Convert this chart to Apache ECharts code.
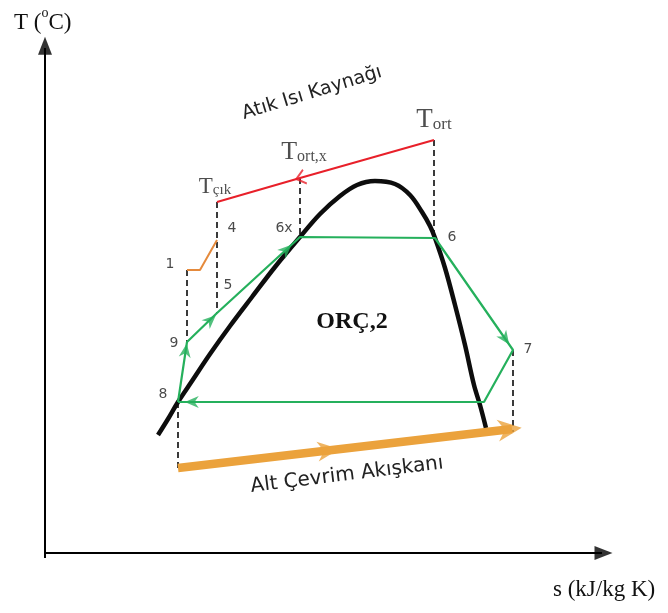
<!DOCTYPE html>
<html>
<head>
<meta charset="utf-8">
<script src="https://cdn.jsdelivr.net/npm/echarts@6/dist/echarts.min.js"></script>
<style>
  html, body { margin: 0; padding: 0; background: #fff; }
  #chart { width: 668px; height: 613px; }
</style>
</head>
<body>
<div id="chart"></div>
<script>
// Schematic T-s diagram of the bottoming ORC (ORÇ,2).
// Coordinates are in drawing units: s grows to the right, T grows upward
// (the T axis is inverted so that larger values sit lower on the page).

// Saturation dome of the working fluid
const domeS = [158, 168, 178, 192, 210, 230, 252, 275, 300, 320, 340, 357, 375, 395, 410, 422, 430, 435, 445, 455, 465, 474, 480, 486];
const domeT = [435, 419, 402, 381, 354, 326, 297, 267, 237, 214, 196, 185, 181, 184, 195, 212, 226, 238, 268, 305, 345, 385, 405, 428];

// Cycle state points: 8 -> 9 -> 5 -> 6x -> 6 -> 7 -> condenser -> 8
const cycleNames = ['8', '9', '5', '6x', '6', '7', ''];
const cycleS = [178, 187, 217, 300, 435, 513, 484];
const cycleT = [402, 342, 313, 237, 238, 350, 402];

// Waste heat source stream: T_ort -> T_ort,x -> T_çık
const heatS = [434, 300, 217];
const heatT = [140, 178, 202];

// Heat source inlet stub (point 1 -> 4)
const stubS = [187, 200, 217];
const stubT = [270, 270, 240];

// Bottoming-cycle fluid stream
const fluidS = [178, 520];
const fluidT = [468, 428];

// Vertical guide lines: [s, T from, T to]
const guideS = [434, 300, 217, 187, 178, 513];
const guideTop = [140, 178, 202, 270, 402, 350];
const guideBottom = [238, 237, 313, 342, 470, 432];

// Axes
const axisOrigin = [45, 553];
const axisTopT = 38;
const axisEndS = 612;

const GREEN = '#25b05c';
const RED = '#e8202a';
const ORANGE = '#eba23c';
const ORANGE_THIN = '#e58a3c';
const DASH = '#3a3a3a';

const pts = (xs, ys) => xs.map((x, i) => [x, ys[i]]);

// Arrowhead placed at fraction t along segment p -> q, rotated along it
function arrowAt(p, q, t, symbol, size, color) {
  const dx = q[0] - p[0], dy = q[1] - p[1];
  const phi = Math.atan2(-dy, dx) * 180 / Math.PI;
  return {
    value: [p[0] + dx * t, p[1] + dy * t],
    symbol: symbol,
    symbolSize: size,
    symbolRotate: phi - 90,
    itemStyle: { color: color }
  };
}

const cycle = pts(cycleS, cycleT);
const heat = pts(heatS, heatT);
const fluid = pts(fluidS, fluidT);

const arrowPath = 'path://M0,20 L10,0 L20,20 L10,14 Z';
const chevron = 'path://M0,12 L7,0 L14,12 L12.5,13 L7,4 L1.5,13 Z';

const arrows = [
  arrowAt(cycle[0], cycle[1], 0.86, arrowPath, [12, 14], GREEN),
  arrowAt(cycle[1], cycle[3], 0.21, arrowPath, [12, 14], GREEN),
  arrowAt(cycle[1], cycle[3], 0.88, arrowPath, [12, 14], GREEN),
  arrowAt(cycle[4], cycle[5], 0.9, arrowPath, [12, 14], GREEN),
  arrowAt(cycle[6], cycle[0], 0.955, arrowPath, [12, 14], GREEN),
  arrowAt(heat[0], heat[1], 1.0, chevron, [16, 11], RED),
  arrowAt(fluid[0], fluid[1], 0.44, arrowPath, [20, 22], ORANGE),
  arrowAt(fluid[0], fluid[1], 0.97, arrowPath, [22, 24], ORANGE),
  arrowAt([axisOrigin[0], axisOrigin[1] + 5], [axisOrigin[0], axisTopT], 0.985, 'triangle', [14, 18], '#000'),
  arrowAt([axisOrigin[0], axisOrigin[1]], [axisEndS, axisOrigin[1]], 0.985, 'triangle', [14, 18], '#000')
];

const lineSeries = (data, color, width, extra) => Object.assign({
  type: 'line',
  data: data,
  showSymbol: false,
  silent: true,
  animation: false,
  lineStyle: { color: color, width: width },
  z: 3
}, extra || {});

const series = [];

// axes
series.push(lineSeries([[axisOrigin[0], axisOrigin[1] + 5], [axisOrigin[0], axisTopT + 10]], '#000', 2));
series.push(lineSeries([[axisOrigin[0], axisOrigin[1]], [axisEndS - 10, axisOrigin[1]]], '#000', 2));

// guides
guideS.forEach((s, i) => {
  series.push(lineSeries([[s, guideTop[i]], [s, guideBottom[i]]], DASH, 2,
    { lineStyle: { color: DASH, width: 2, type: [6, 4] }, z: 2 }));
});

// dome
series.push(lineSeries(pts(domeS, domeT), '#0d0d0d', 4.5, { smooth: 0.35, z: 4 }));

// cycle
series.push(lineSeries(cycle.concat([cycle[0]]), GREEN, 2.2, { z: 5 }));

// heat source
series.push(lineSeries(heat, RED, 2, { z: 5 }));

// stub
series.push(lineSeries(pts(stubS, stubT), ORANGE_THIN, 2, { z: 5 }));

// fluid stream
series.push(lineSeries(fluid.map((p, i) => i === 1 ? [p[0] - 8, p[1] + 1] : p), ORANGE, 8.5, { z: 5 }));

// arrowheads
series.push({ type: 'scatter', data: arrows, silent: true, animation: false, z: 6 });

// state point labels
const labelOffsets = { '8': [-15, -8], '9': [-13, 1], '5': [11, -28], '6x': [-16, -9], '6': [17, -1], '7': [15, -1] };
series.push({
  type: 'scatter',
  silent: true,
  animation: false,
  symbolSize: 0,
  z: 7,
  data: cycleNames.map((n, i) => ({
    value: cycle[i], name: n,
    label: { show: n !== '', formatter: n, position: 'inside', offset: labelOffsets[n] || [0, 0] }
  })).concat([
    { value: [stubS[0], stubT[0]], name: '1', label: { show: true, formatter: '1', position: 'inside', offset: [-17, -6] } },
    { value: [stubS[2], stubT[2]], name: '4', label: { show: true, formatter: '4', position: 'inside', offset: [15, -12] } }
  ]),
  label: { color: '#1a1a1a', fontFamily: 'DejaVu Sans', fontSize: 14 }
});

// temperature labels on the heat source line
const tRich = (big, small) => ({
  t: { fontFamily: 'Liberation Serif', fontSize: big, color: '#222', verticalAlign: 'bottom', lineHeight: big + 2 },
  s: { fontFamily: 'Liberation Serif', fontSize: small, color: '#222', verticalAlign: 'bottom', lineHeight: big }
});
const tLabels = ['{t|T}{s|ort}', '{t|T}{s|ort,x}', '{t|T}{s|çık}'];
const tSizes = [[27, 17], [26, 16], [23, 15]];
const tOffsets = [[0, 5], [4, -1], [-2, 8]];
series.push({
  type: 'scatter',
  silent: true,
  animation: false,
  symbolSize: 0,
  z: 7,
  data: heat.map((p, i) => ({
    value: p,
    label: {
      show: true, formatter: tLabels[i], position: 'top', distance: 12,
      offset: tOffsets[i], rich: tRich(tSizes[i][0], tSizes[i][1])
    }
  }))
});

const chart = echarts.init(document.getElementById('chart'), null, { renderer: 'canvas' });
chart.setOption({
  backgroundColor: '#ffffff',
  animation: false,
  grid: { left: 0, right: 0, top: 0, bottom: 0 },
  xAxis: { type: 'value', min: 0, max: 668, show: false },
  yAxis: { type: 'value', min: 0, max: 613, inverse: true, show: false },
  series: series,
  graphic: [
    {
      type: 'text', left: 14, top: 6,
      style: {
        text: '{a|T (}{o|o}{a|C)}',
        rich: {
          a: { fontFamily: 'Liberation Serif', fontSize: 23, fill: '#111', verticalAlign: 'bottom', lineHeight: 28 },
          o: { fontFamily: 'Liberation Serif', fontSize: 14, fill: '#111', verticalAlign: 'top', lineHeight: 28 }
        }
      }
    },
    {
      type: 'text', left: 553, top: 578,
      style: { text: 's (kJ/kg K)', font: '23px "Liberation Serif"', fill: '#111' }
    },
    {
      type: 'text', x: 352, y: 322,
      style: { text: 'ORÇ,2', font: 'bold 24px "Liberation Serif"', fill: '#111', align: 'center', verticalAlign: 'middle' }
    },
    {
      type: 'text', x: 312, y: 93, rotation: 17 * Math.PI / 180,
      style: { text: 'Atık Isı Kaynağı', font: '19px "DejaVu Sans"', fill: '#222', align: 'center', verticalAlign: 'middle' }
    },
    {
      type: 'text', x: 347, y: 475, rotation: 7 * Math.PI / 180,
      style: { text: 'Alt Çevrim Akışkanı', font: '20px "DejaVu Sans"', fill: '#222', align: 'center', verticalAlign: 'middle' }
    }
  ]
});
</script>
</body>
</html>
